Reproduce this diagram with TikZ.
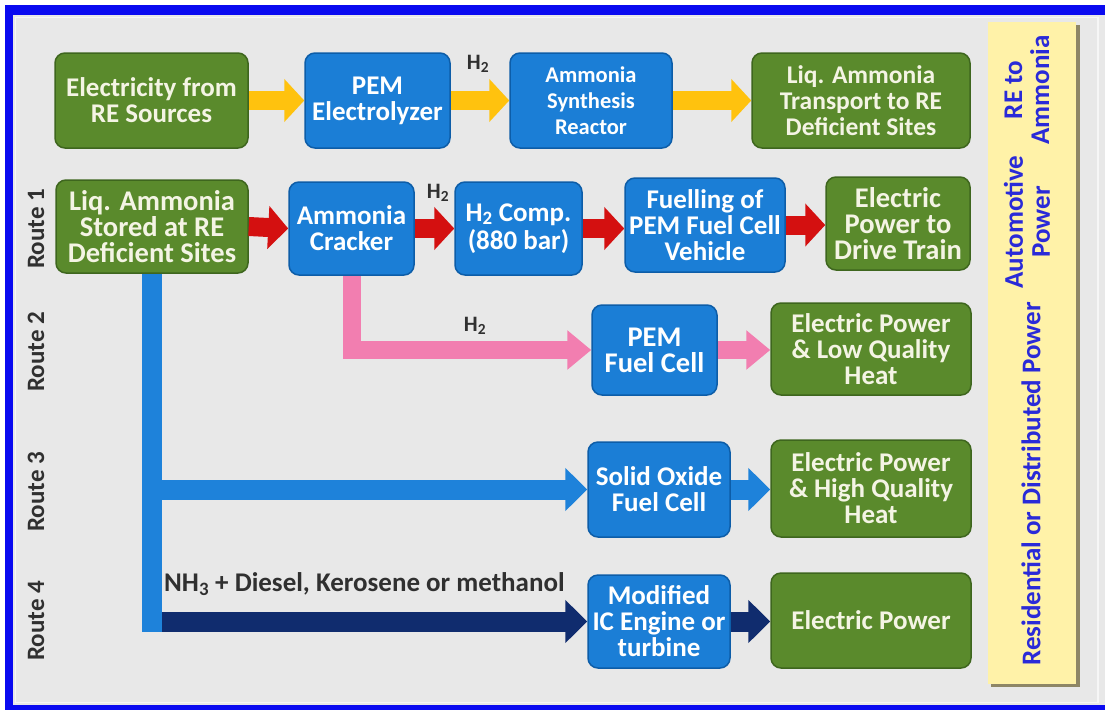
\documentclass[tikz,border=0pt]{standalone}
\usepackage{fontspec}
\setmainfont{Carlito}
\usetikzlibrary{arrows.meta}
\definecolor{frameblue}{HTML}{0A0AF0}
\definecolor{bggrey}{HTML}{E8E8E8}
\definecolor{edgegrey}{HTML}{F6F6F6}
\definecolor{gfill}{HTML}{5A8A2C}
\definecolor{gdraw}{HTML}{3E661E}
\definecolor{gtext}{HTML}{F4F4E4}
\definecolor{bfill}{HTML}{1B7ED6}
\definecolor{bdraw}{HTML}{0D5DA8}
\definecolor{arrY}{HTML}{FFC20E}
\definecolor{arrR}{HTML}{D41010}
\definecolor{arrP}{HTML}{F27EB0}
\definecolor{arrB}{HTML}{1E82DA}
\definecolor{arrN}{HTML}{102C6E}
\definecolor{ybox}{HTML}{FFF2A8}
\definecolor{yshadow}{HTML}{8E8666}
\definecolor{sidetext}{HTML}{2A2AD8}
\definecolor{darktext}{HTML}{303030}
\begin{document}
\begin{tikzpicture}[x=1pt,y=-1pt,
  fsz/.style={font=\fontsize{#1}{26}\selectfont\bfseries},
  boxtext/.style={fsz=27, align=center, inner sep=0pt, rounded corners=10pt, line width=1.5pt},
  gbox/.style={boxtext, fill=gfill, draw=gdraw, text=gtext},
  bbox/.style={boxtext, fill=bfill, draw=bdraw, text=white},
  fatarrow/.style={line width=19pt, line join=miter, -{Triangle[length=20pt,width=42pt]}},
  yarr/.style={fatarrow, draw=arrY},
  rarr/.style={fatarrow, draw=arrR},
  parr/.style={fatarrow, line width=18pt, draw=arrP, -{Triangle[length=24pt,width=38pt]}},
  barr/.style={fatarrow, line width=20pt, draw=arrB, -{Triangle[length=22pt,width=42pt]}},
  narr/.style={fatarrow, line width=20pt, draw=arrN, -{Triangle[length=22pt,width=42pt]}},
  h2lab/.style={font=\fontsize{22}{22}\selectfont\bfseries, text=darktext, inner sep=0pt},
  routelab/.style={font=\fontsize{25}{25}\selectfont\bfseries, text=darktext, rotate=90, inner sep=0pt},
  sidelab/.style={font=\fontsize{27}{27}\selectfont\bfseries, text=sidetext, rotate=90, align=center, inner sep=0pt}
]
\useasboundingbox (0,0) rectangle (1105,710);
\fill[white] (0,0) rectangle (1105,710);
\fill[frameblue] (5,5) rectangle (1105,710);
\fill[bggrey] (13,15) rectangle (1105,705);
\draw[edgegrey, line width=1.5pt] (15.5,17.5) rectangle (1098,702.5);

% side yellow panel
\fill[yshadow] (991,25) rectangle (1080,687);
\fill[ybox] (988,22) rectangle (1076,684);
\node[sidelab] (s1) at (1027,90) {RE to\\Ammonia};
\node[sidelab] (s2) at (1027,222) {Automotive\\Power};
\node[sidelab] (s3) at (1031,484) {Residential or Distributed Power};

% route labels
\node[routelab] (rl1) at (36,229) {Route 1};
\node[routelab] (rl2) at (36,352) {Route 2};
\node[routelab] (rl3) at (36,492) {Route 3};
\node[routelab] (rl4) at (36,621) {Route 4};

% row 0
\node[gbox, minimum width=193pt, minimum height=95pt] (e1) at (151.5,100.5) {Electricity from\\RE Sources};
\node[bbox, minimum width=145pt, minimum height=95pt] (e2) at (377.5,100.5) {PEM\\Electrolyzer};
\node[bbox, fsz=22.5, minimum width=162pt, minimum height=95pt] (e3) at (591,100.5) {Ammonia\\Synthesis\\Reactor};
\node[gbox, fsz=25.5, minimum width=218pt, minimum height=95pt] (e4) at (861,100.5) {Liq. Ammonia\\Transport to RE\\Deficient Sites};

% route 1
\node[gbox, fsz=28.5, minimum width=192pt, minimum height=93pt] (st) at (152,226.5) {Liq. Ammonia\\Stored at RE\\Deficient Sites};
\node[bbox, minimum width=125pt, minimum height=93pt] (cr) at (351.5,228.5) {Ammonia\\Cracker};
\node[bbox, font=\fontsize{27}{28.5}\selectfont\bfseries, minimum width=127pt, minimum height=93pt] (cp) at (518.5,228.5) {H\textsubscript{2} Comp.\\(880 bar)};
\node[bbox, minimum width=160pt, minimum height=94pt] (fu) at (705,225) {Fuelling of\\PEM Fuel Cell\\Vehicle};
\node[gbox, fsz=28.5, minimum width=144pt, minimum height=93pt] (dt) at (898,223.5) {Electric\\Power to\\Drive Train};

% route 2
\node[bbox, fsz=28.5, minimum width=125pt, minimum height=90pt] (pf) at (654.5,350) {PEM\\Fuel Cell};
\node[gbox, minimum width=200pt, minimum height=92pt] (lq) at (871,349) {Electric Power\\\& Low Quality\\Heat};

% route 3
\node[bbox, minimum width=142pt, minimum height=95pt] (so) at (659,489.5) {Solid Oxide\\Fuel Cell};
\node[gbox, minimum width=200pt, minimum height=97pt] (hq) at (871,488.5) {Electric Power\\\& High Quality\\Heat};

% route 4
\node[bbox, minimum width=142pt, minimum height=93pt] (ic) at (659,621.5) {Modified\\IC Engine or\\turbine};
\node[gbox, minimum width=200pt, minimum height=95pt] (ep) at (871,620.5) {Electric Power};

% arrows row 0
\draw[yarr] (e1.east) -- (e2.west);
\draw[yarr] (e2.east) -- (e3.west);
\draw[yarr] (e3.east) -- (e4.west);
\node[h2lab] (h2a) at (478,64) {H\textsubscript{2}};

% arrows route 1
\draw[rarr] (st.east) -- (cr.west);
\draw[rarr] (cr.east) -- (cp.west);
\draw[rarr] (cp.east) -- (fu.west |- cp.east);
\draw[rarr] (fu.east) -- (dt.west |- fu.east);
\node[h2lab] (h2b) at (438,193) {H\textsubscript{2}};

% route 2
\draw[parr] (cr.south) |- (pf.west);
\draw[parr] (pf.east) -- (lq.west |- pf.east);
\node[h2lab] (h2c) at (475,326) {H\textsubscript{2}};

% route 4 (under the blue trunk)
\draw[narr] (st.south) |- (ic.west);
\draw[narr] (ic.east) -- (ep.west |- ic.east);
\node[font=\fontsize{27}{27}\selectfont\bfseries, text=darktext, anchor=west, inner sep=0pt] (mix) at (164,584) {NH\textsubscript{3} + Diesel, Kerosene or methanol};

% route 3 and blue trunk
\draw[barr] (st.south) |- (so.west);
\coordinate (trunkend) at ([yshift=-10pt]st.south |- ic.west);
\draw[arrB, line width=20pt] (st.south) -- (trunkend);
\draw[barr] (so.east) -- (hq.west |- so.east);
\end{tikzpicture}
\end{document}
